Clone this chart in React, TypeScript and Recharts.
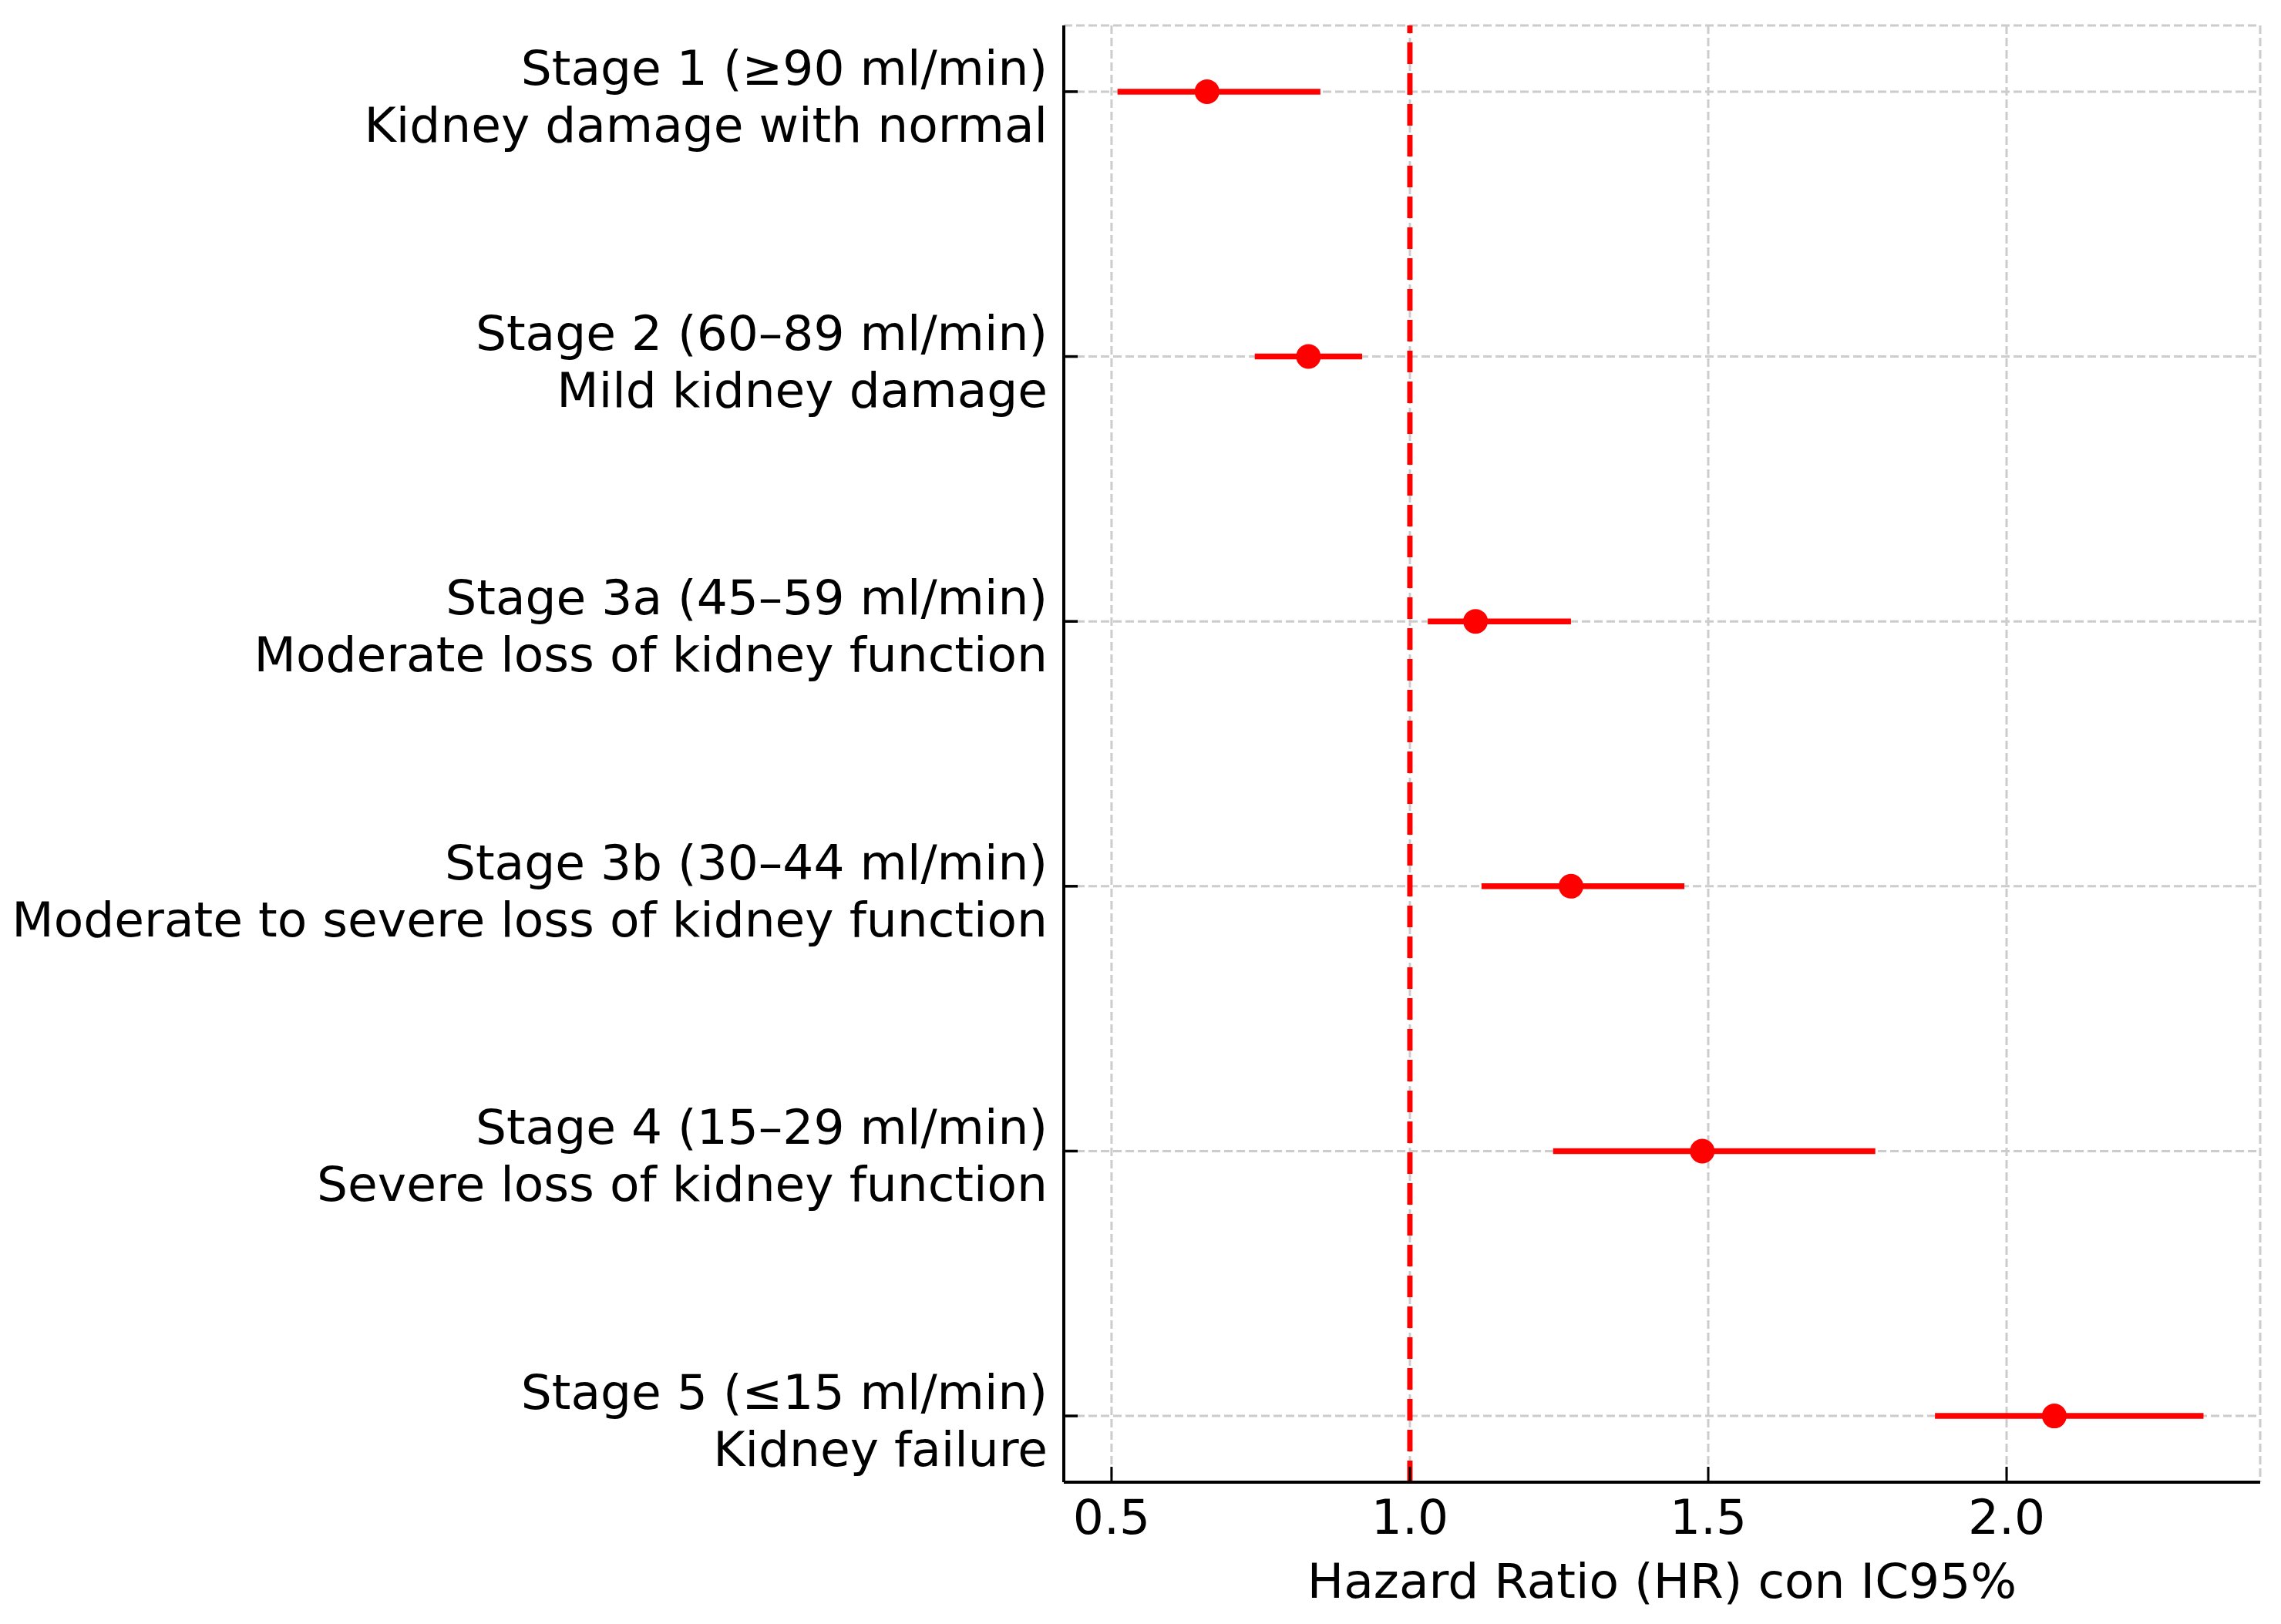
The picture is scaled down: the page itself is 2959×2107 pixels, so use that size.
import React from 'react';
import { ScatterChart, Scatter, XAxis, YAxis, CartesianGrid, ReferenceLine, ErrorBar, Label } from 'recharts';

// CKD stages (y axis, top to bottom)
const stageNames = [
  'Stage 1 (≥90 ml/min)',
  'Stage 2 (60–89 ml/min)',
  'Stage 3a (45–59 ml/min)',
  'Stage 3b (30–44 ml/min)',
  'Stage 4 (15–29 ml/min)',
  'Stage 5 (≤15 ml/min)',
];
const stageDescriptions = [
  'Kidney damage with normal',
  'Mild kidney damage',
  'Moderate loss of kidney function',
  'Moderate to severe loss of kidney function',
  'Severe loss of kidney function',
  'Kidney failure',
];

// hazard ratios and 95% CI
const hazardRatio = [0.66, 0.83, 1.11, 1.27, 1.49, 2.08];
const ciLower = [0.51, 0.74, 1.03, 1.12, 1.24, 1.88];
const ciUpper = [0.85, 0.92, 1.27, 1.46, 1.78, 2.33];

const xTicks = [0.5, 1.0, 1.5, 2.0];
const yTicks = [0, 1, 2, 3, 4, 5];

const data = hazardRatio.map((hr, i) => ({
  x: hr,
  y: i,
  errorX: [hr - ciLower[i], ciUpper[i] - hr],
}));

const FONT = 'DejaVu Sans';
const FONT_SIZE = 63;

// y tick: inward tick mark + two line label
const renderYTick = ({ x, y, payload }: any) => {
  const i = payload.value;
  return (
    <g>
      <line x1={x} y1={y} x2={x + 18} y2={y} stroke="#000" strokeWidth={3.5} />
      <text x={x - 21} y={y - 9} textAnchor="end" fontFamily={FONT} fontSize={FONT_SIZE} fill="#000">
        {stageNames[i]}
      </text>
      <text x={x - 21} y={y + 65} textAnchor="end" fontFamily={FONT} fontSize={FONT_SIZE} fill="#000">
        {stageDescriptions[i]}
      </text>
    </g>
  );
};

// x tick: inward tick mark + value
const renderXTick = ({ x, y, payload }: any) => (
  <g>
    <line x1={x} y1={y} x2={x} y2={y - 20} stroke="#000" strokeWidth={3} />
    <text x={x} y={y + 67} textAnchor="middle" fontFamily={FONT} fontSize={FONT_SIZE} fill="#000">
      {Number(payload.value).toFixed(1)}
    </text>
  </g>
);

const Dot = (props: any) => <circle cx={props.cx} cy={props.cy} r={16} fill="#ff0000" />;

export default function App() {
  return (
    <div style={{ position: 'absolute', left: 0, top: 0, width: 2959, height: 2107, background: '#fff' }}>
      <ScatterChart width={2959} height={2107} margin={{ top: 33, right: 27, bottom: 0, left: 0 }}>
        <CartesianGrid strokeDasharray="11 5" stroke="#cccccc" strokeWidth={3} />
        <XAxis
          type="number"
          dataKey="x"
          domain={[0.42, 2.425]}
          ticks={xTicks}
          allowDataOverflow
          height={184}
          tickSize={0}
          tickMargin={0}
          tickLine={false}
          tick={renderXTick}
          axisLine={{ stroke: '#000', strokeWidth: 4 }}
        >
          <Label
            content={({ viewBox }: any) => (
              <text
                x={viewBox.x + viewBox.width / 2}
                y={viewBox.y + 150}
                textAnchor="middle"
                fontFamily={FONT}
                fontSize={FONT_SIZE}
                fill="#000"
              >
                Hazard Ratio (HR) con IC95%
              </text>
            )}
          />
        </XAxis>
        <YAxis
          type="number"
          dataKey="y"
          domain={[-0.25, 5.25]}
          ticks={yTicks}
          reversed
          allowDataOverflow
          width={1380}
          tickSize={0}
          tickMargin={0}
          tickLine={false}
          tick={renderYTick}
          axisLine={{ stroke: '#000', strokeWidth: 4 }}
        />
        <ReferenceLine x={1} stroke="#ff0000" strokeWidth={7} strokeDasharray="28 12" />
        <Scatter data={data} fill="#ff0000" shape={Dot} isAnimationActive={false}>
          <ErrorBar dataKey="errorX" direction="x" width={0} stroke="#ff0000" strokeWidth={7.5} isAnimationActive={false} />
        </Scatter>
      </ScatterChart>
    </div>
  );
}
